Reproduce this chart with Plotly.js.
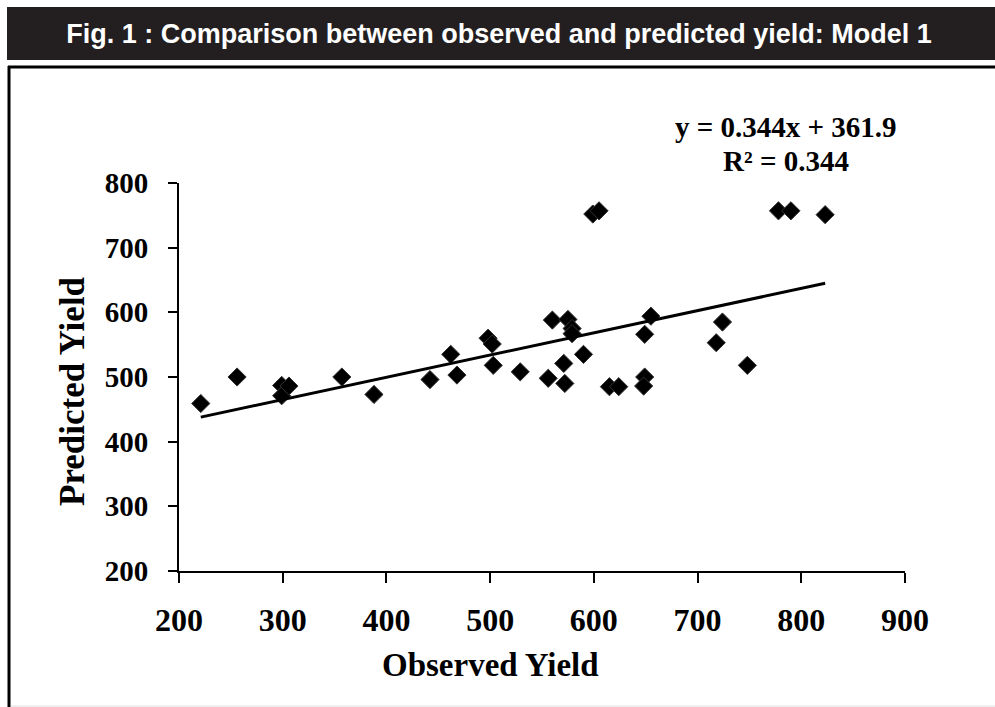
<!DOCTYPE html>
<html>
<head>
<meta charset="utf-8">
<script src="https://cdn.plot.ly/plotly-3.0.1.min.js"></script>
<style>
  html, body { margin: 0; padding: 0; background: #ffffff; }
  #chart { width: 995px; height: 707px; }
</style>
</head>
<body>
<div id="chart"></div>
<script>
// Observed vs predicted yield
const observedYield = [221, 256, 299, 299, 306, 357, 388, 442, 462, 468, 498, 503,
  599, 605, 502, 529, 560, 575, 579, 579, 590, 571, 556, 572, 615, 624, 649, 648,
  655, 649, 778, 790, 823, 724, 718, 748];
const predictedYield = [459, 500, 487, 471, 486, 500, 473, 496, 535, 503, 560, 518,
  752, 757, 551, 508, 588, 589, 575, 567, 535, 521, 498, 490, 485, 485, 500, 486,
  594, 566, 757, 757, 751, 585, 553, 518];

// Linear trendline printed on the chart
const slope = 0.344;
const intercept = 361.9;
const rSquared = 0.344;
const trendX = [Math.min(...observedYield), Math.max(...observedYield)];
const trendY = trendX.map(v => slope * v + intercept);

const xTicks = [200, 300, 400, 500, 600, 700, 800, 900];
const yTicks = [200, 300, 400, 500, 600, 700, 800];

const serif = 'Liberation Serif, Times New Roman, serif';

const traces = [
  {
    x: observedYield, y: predictedYield, type: 'scatter', mode: 'markers',
    marker: { symbol: 'diamond', size: 14, color: '#000000', line: { color: '#333333', width: 1 } },
    showlegend: false, hoverinfo: 'x+y'
  },
  {
    x: trendX, y: trendY, type: 'scatter', mode: 'lines',
    line: { color: '#000000', width: 3 },
    showlegend: false, hoverinfo: 'skip'
  }
];

// plot area: left 179, right 905, top 183, bottom 571
const px = v => (v - 179) / 726;
const py = v => (571 - v) / 388;

const layout = {
  width: 995, height: 707,
  margin: { l: 179, r: 90, t: 183, b: 136 },
  paper_bgcolor: '#ffffff', plot_bgcolor: '#ffffff',
  title: {
    text: 'Fig. 1 : Comparison between observed and predicted yield: Model 1',
    font: { family: 'Liberation Sans, Arial, sans-serif', size: 27, weight: 'bold', color: '#ffffff' },
    xref: 'container', x: 0.5015, xanchor: 'center',
    yref: 'container', y: 1 - 34 / 707, yanchor: 'middle'
  },
  xaxis: {
    range: [200, 900], tickvals: xTicks, ticktext: xTicks.map(String),
    showline: true, linecolor: '#000', linewidth: 2, mirror: false,
    ticks: 'outside', ticklen: 10, tickwidth: 2, tickcolor: '#000',
    ticklabelstandoff: 10,
    showgrid: false, zeroline: false,
    tickfont: { family: serif, size: 32, weight: 'bold', color: '#000' }
  },
  yaxis: {
    range: [200, 800], tickvals: yTicks, ticktext: yTicks.map(String),
    showline: true, linecolor: '#000', linewidth: 2,
    ticks: 'outside', ticklen: 9, tickwidth: 2, tickcolor: '#000',
    ticklabelstandoff: 14,
    showgrid: false, zeroline: false,
    tickfont: { family: serif, size: 29, weight: 'bold', color: '#000' }
  },
  annotations: [
    { text: 'Observed Yield', xref: 'paper', yref: 'paper', x: px(490), y: py(665),
      xanchor: 'center', yanchor: 'middle', showarrow: false,
      font: { family: serif, size: 33, weight: 'bold', color: '#000' } },
    { text: 'Predicted Yield', xref: 'paper', yref: 'paper', x: px(72), y: py(391),
      xanchor: 'center', yanchor: 'middle', showarrow: false, textangle: -90,
      font: { family: serif, size: 35, weight: 'bold', color: '#000' } },
    { text: 'y = ' + slope + 'x + ' + intercept, xref: 'paper', yref: 'paper', x: px(786), y: py(127),
      xanchor: 'center', yanchor: 'middle', showarrow: false,
      font: { family: serif, size: 29, weight: 'bold', color: '#000' } },
    { text: 'R² = ' + rSquared.toFixed(3), xref: 'paper', yref: 'paper', x: px(786), y: py(161),
      xanchor: 'center', yanchor: 'middle', showarrow: false,
      font: { family: serif, size: 29, weight: 'bold', color: '#000' } }
  ],
  shapes: [
    // header bar
    { type: 'rect', xref: 'paper', yref: 'paper', layer: 'below',
      x0: px(7), x1: px(1000), y0: py(60), y1: py(7),
      fillcolor: '#231f20', line: { width: 0 } },
    // frame top line
    { type: 'line', xref: 'paper', yref: 'paper', layer: 'below',
      x0: px(8), x1: px(1000), y0: py(67), y1: py(67),
      line: { color: '#000', width: 3 } },
    // frame left line
    { type: 'line', xref: 'paper', yref: 'paper', layer: 'below',
      x0: px(9), x1: px(9), y0: py(66), y1: py(710),
      line: { color: '#000', width: 3 } },
    // light band at the bottom
    { type: 'rect', xref: 'paper', yref: 'paper', layer: 'below',
      x0: px(11), x1: px(1000), y0: py(710), y1: py(705),
      fillcolor: '#eeeeee', line: { width: 0 } }
  ]
};

Plotly.newPlot('chart', traces, layout, { displayModeBar: false, staticPlot: true });
</script>
</body>
</html>
